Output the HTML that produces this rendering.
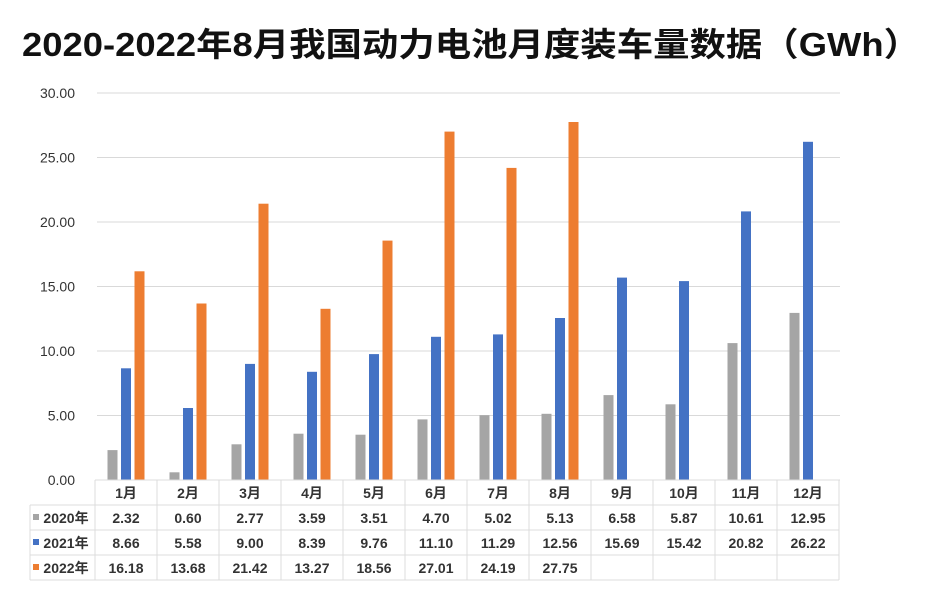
<!DOCTYPE html>
<html><head><meta charset="utf-8"><style>
body{margin:0;background:#fff;}
svg{display:block;}
text{font-family:"Liberation Sans","Noto Sans CJK SC",sans-serif;}
</style></head><body>
<svg width="932" height="593" xmlns="http://www.w3.org/2000/svg">
<text x="22" y="56" font-size="33" font-weight="bold" fill="#111" textLength="898" lengthAdjust="spacingAndGlyphs">2020-2022年8月我国动力电池月度装车量数据（GWh）</text>
<g stroke="#d9d9d9" stroke-width="1">
<line x1="97" x2="840" y1="93" y2="93"/><line x1="97" x2="840" y1="157.5" y2="157.5"/><line x1="97" x2="840" y1="222" y2="222"/><line x1="97" x2="840" y1="286.5" y2="286.5"/><line x1="97" x2="840" y1="351" y2="351"/><line x1="97" x2="840" y1="415.5" y2="415.5"/><line x1="97" x2="840" y1="480" y2="480"/>
</g>
<g font-size="14" fill="#333" text-anchor="end">
<text x="75" y="98">30.00</text><text x="75" y="162.5">25.00</text><text x="75" y="227">20.00</text><text x="75" y="291.5">15.00</text><text x="75" y="356">10.00</text><text x="75" y="420.5">5.00</text><text x="75" y="485">0.00</text>
</g>
<g transform="translate(0,480) scale(1,-1)">
<g fill="#a5a5a5">
<rect x="107.5" y="0" width="10" height="29.9"/><rect x="169.5" y="0" width="10" height="7.7"/><rect x="231.5" y="0" width="10" height="35.7"/><rect x="293.5" y="0" width="10" height="46.3"/><rect x="355.5" y="0" width="10" height="45.3"/><rect x="417.5" y="0" width="10" height="60.6"/><rect x="479.5" y="0" width="10" height="64.8"/><rect x="541.5" y="0" width="10" height="66.2"/><rect x="603.5" y="0" width="10" height="84.9"/><rect x="665.5" y="0" width="10" height="75.7"/><rect x="727.5" y="0" width="10" height="136.9"/><rect x="789.5" y="0" width="10" height="167.1"/>
</g>
<g fill="#4472c4">
<rect x="121" y="0" width="10" height="111.7"/><rect x="183" y="0" width="10" height="72"/><rect x="245" y="0" width="10" height="116.1"/><rect x="307" y="0" width="10" height="108.2"/><rect x="369" y="0" width="10" height="125.9"/><rect x="431" y="0" width="10" height="143.2"/><rect x="493" y="0" width="10" height="145.6"/><rect x="555" y="0" width="10" height="162"/><rect x="617" y="0" width="10" height="202.4"/><rect x="679" y="0" width="10" height="198.9"/><rect x="741" y="0" width="10" height="268.6"/><rect x="803" y="0" width="10" height="338.2"/>
</g>
<g fill="#ed7d31">
<rect x="134.5" y="0" width="10" height="208.7"/><rect x="196.5" y="0" width="10" height="176.5"/><rect x="258.5" y="0" width="10" height="276.3"/><rect x="320.5" y="0" width="10" height="171.2"/><rect x="382.5" y="0" width="10" height="239.4"/><rect x="444.5" y="0" width="10" height="348.4"/><rect x="506.5" y="0" width="10" height="312.1"/><rect x="568.5" y="0" width="10" height="358"/>
</g>
</g>
<g stroke="#dcdcdc" stroke-width="1">
<line x1="95" x2="839" y1="480" y2="480"/><line x1="30" x2="839" y1="505" y2="505"/><line x1="30" x2="839" y1="530" y2="530"/><line x1="30" x2="839" y1="555" y2="555"/><line x1="30" x2="839" y1="580" y2="580"/>
<line x1="30" x2="30" y1="505" y2="580"/>
<line x1="95" x2="95" y1="480" y2="580"/><line x1="157" x2="157" y1="480" y2="580"/><line x1="219" x2="219" y1="480" y2="580"/><line x1="281" x2="281" y1="480" y2="580"/><line x1="343" x2="343" y1="480" y2="580"/><line x1="405" x2="405" y1="480" y2="580"/><line x1="467" x2="467" y1="480" y2="580"/><line x1="529" x2="529" y1="480" y2="580"/><line x1="591" x2="591" y1="480" y2="580"/><line x1="653" x2="653" y1="480" y2="580"/><line x1="715" x2="715" y1="480" y2="580"/><line x1="777" x2="777" y1="480" y2="580"/><line x1="839" x2="839" y1="480" y2="580"/>
</g>
<rect x="33" y="514" width="6" height="6" fill="#a5a5a5"/><rect x="33" y="539" width="6" height="6" fill="#4472c4"/><rect x="33" y="564" width="6" height="6" fill="#ed7d31"/>
<g font-size="14" font-weight="bold" fill="#333" text-anchor="middle">
<text x="66" y="523">2020年</text><text x="66" y="548">2021年</text><text x="66" y="573">2022年</text>
<text x="126" y="498">1月</text><text x="188" y="498">2月</text><text x="250" y="498">3月</text><text x="312" y="498">4月</text><text x="374" y="498">5月</text><text x="436" y="498">6月</text><text x="498" y="498">7月</text><text x="560" y="498">8月</text><text x="622" y="498">9月</text><text x="684" y="498">10月</text><text x="746" y="498">11月</text><text x="808" y="498">12月</text>
<text x="126" y="523">2.32</text><text x="188" y="523">0.60</text><text x="250" y="523">2.77</text><text x="312" y="523">3.59</text><text x="374" y="523">3.51</text><text x="436" y="523">4.70</text><text x="498" y="523">5.02</text><text x="560" y="523">5.13</text><text x="622" y="523">6.58</text><text x="684" y="523">5.87</text><text x="746" y="523">10.61</text><text x="808" y="523">12.95</text>
<text x="126" y="548">8.66</text><text x="188" y="548">5.58</text><text x="250" y="548">9.00</text><text x="312" y="548">8.39</text><text x="374" y="548">9.76</text><text x="436" y="548">11.10</text><text x="498" y="548">11.29</text><text x="560" y="548">12.56</text><text x="622" y="548">15.69</text><text x="684" y="548">15.42</text><text x="746" y="548">20.82</text><text x="808" y="548">26.22</text>
<text x="126" y="573">16.18</text><text x="188" y="573">13.68</text><text x="250" y="573">21.42</text><text x="312" y="573">13.27</text><text x="374" y="573">18.56</text><text x="436" y="573">27.01</text><text x="498" y="573">24.19</text><text x="560" y="573">27.75</text>
</g>
</svg>
</body></html>
